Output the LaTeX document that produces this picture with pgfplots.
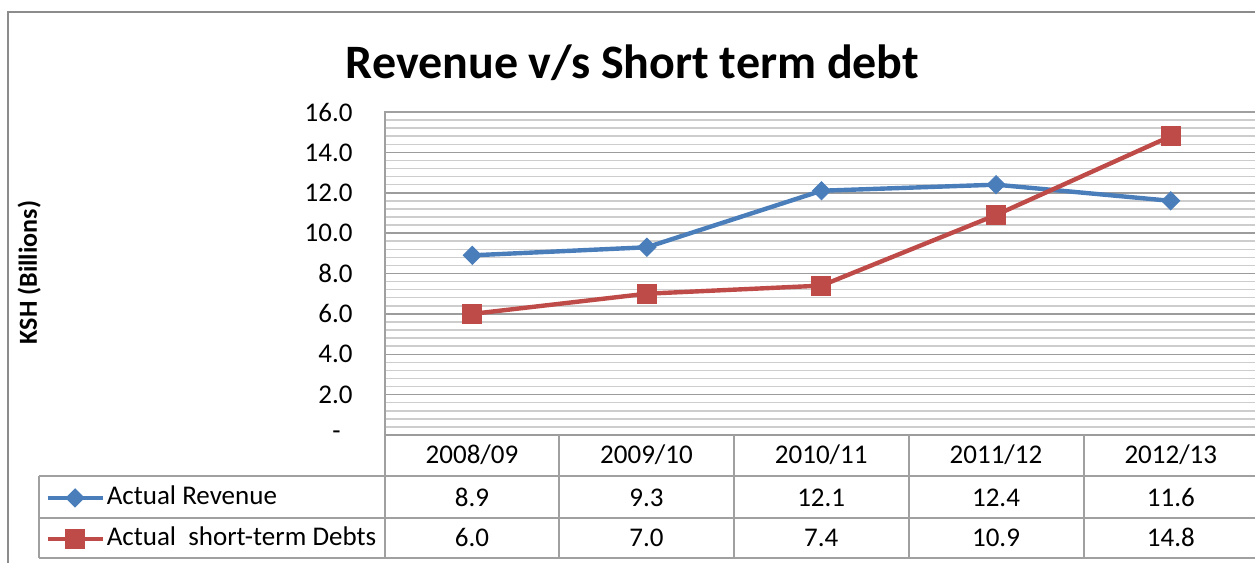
\documentclass[border=0pt]{standalone}
\usepackage{pgfplots}
\pgfplotsset{compat=1.18}
\usepackage{fontspec}
\setmainfont{Carlito}
\definecolor{revblue}{HTML}{4A7EBB}
\definecolor{debtred}{HTML}{BE4B48}
\definecolor{gridmaj}{HTML}{9C9C9C}
\definecolor{gridmin}{HTML}{CDCDCD}
\definecolor{tabline}{HTML}{A0A0A0}
\definecolor{framecol}{HTML}{8C8C8C}
\newcommand{\tabfont}{\fontsize{13.5}{16}\selectfont}
\begin{document}
\begin{tikzpicture}[x=1pt,y=1pt]
\useasboundingbox (0,0) rectangle (627.5,-281.5);
\draw[framecol, line width=1pt] (3.75,-6) rectangle (700,-400);
\node[font=\fontsize{24}{28}\selectfont\bfseries, anchor=base, inner sep=0pt] at (316.25,-39) {Revenue v/s Short term debt};
\node[font=\fontsize{13}{15}\selectfont\bfseries, rotate=90, anchor=base, inner sep=0pt] at (18.5,-136.25) {KSH (Billions)};
\begin{axis}[at={(192.5pt,-217.5pt)}, anchor=south west, scale only axis,
  width=436.5pt, height=161.5pt,
  xmin=-0.5, xmax=4.5, ymin=0, ymax=16,
  xtick=\empty,
  ytick={2,4,6,8,10,12,14,16},
  yticklabels={{2.0},{4.0},{6.0},{8.0},{10.0},{12.0},{14.0},{16.0}},
  extra y ticks={0},
  extra y tick labels={-},
  extra y tick style={yticklabel style={xshift=-6pt}},
  minor ytick={0.4,0.8,1.2,1.6,2.4,2.8,3.2,3.6,4.4,4.8,5.2,5.6,6.4,6.8,7.2,7.6,8.4,8.8,9.2,9.6,10.4,10.8,11.2,11.6,12.4,12.8,13.2,13.6,14.4,14.8,15.2,15.6},
  ymajorgrids, yminorgrids,
  major grid style={gridmaj, line width=0.75pt},
  minor grid style={gridmin, line width=0.75pt},
  axis line style={tabline, line width=0.75pt},
  major tick length=0pt, minor tick length=0pt,
  tick style={draw=none},
  yticklabel style={font=\tabfont, inner sep=0pt, xshift=-16pt},
  clip=false,
  legend style={at={(-0.3895,-0.1579)}, anchor=north west, draw=none, fill=none,
    inner sep=0pt, row sep=9pt, column sep=1pt, font=\tabfont,
    nodes={inner sep=0pt, text height=9pt, text depth=2.5pt}, cells={anchor=west}},
  legend image code/.code={\draw[mark repeat=2,mark phase=2,#1] plot coordinates {(0pt,0pt) (13.75pt,0pt) (27.5pt,0pt)};},
]
\addplot[revblue, line width=2.2pt, mark=diamond*, mark size=4.5pt,
  mark options={solid, fill=revblue, line width=0.5pt, xscale=1.33}]
  coordinates {(0,8.9) (1,9.3) (2,12.1) (3,12.4) (4,11.6)};
\addlegendentry{Actual Revenue}
\addplot[debtred, line width=2.2pt, mark=square*, mark size=4.75pt,
  mark options={solid, fill=debtred, line width=0.5pt}]
  coordinates {(0,6.0) (1,7.0) (2,7.4) (3,10.9) (4,14.8)};
\addlegendentry{Actual\ \ short-term Debts}
\end{axis}
% data table grid
\begin{scope}[tabline, line width=0.75pt]
\draw (192.5,-217.5) -- (192.5,-279);
\draw (19.5,-238) -- (640,-238);
\draw (19.5,-259) -- (640,-259);
\draw (19.5,-279) -- (640,-279);
\draw (19.5,-238) -- (19.5,-279);
\draw (279.5,-217.5) -- (279.5,-279);
\draw (367,-217.5) -- (367,-279);
\draw (454.5,-217.5) -- (454.5,-279);
\draw (542,-217.5) -- (542,-279);
\draw (629.25,-217.5) -- (629.25,-279);
\end{scope}
\begin{scope}[font=\tabfont, anchor=base, inner sep=0pt]
\node[anchor=base] at (236,-231.7) {2008/09};
\node[anchor=base] at (323.25,-231.7) {2009/10};
\node[anchor=base] at (410.6,-231.7) {2010/11};
\node[anchor=base] at (498,-231.7) {2011/12};
\node[anchor=base] at (585.4,-231.7) {2012/13};
\node[anchor=base] at (236,-253) {8.9};
\node[anchor=base] at (323.25,-253) {9.3};
\node[anchor=base] at (410.6,-253) {12.1};
\node[anchor=base] at (498,-253) {12.4};
\node[anchor=base] at (585.4,-253) {11.6};
\node[anchor=base] at (236,-273.3) {6.0};
\node[anchor=base] at (323.25,-273.3) {7.0};
\node[anchor=base] at (410.6,-273.3) {7.4};
\node[anchor=base] at (498,-273.3) {10.9};
\node[anchor=base] at (585.4,-273.3) {14.8};
\end{scope}
\end{tikzpicture}
\end{document}
